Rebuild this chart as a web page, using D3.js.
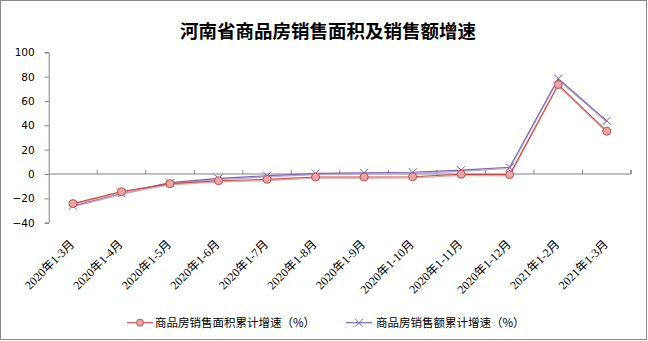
<!DOCTYPE html>
<html><head><meta charset="utf-8">
<script src="https://cdn.jsdelivr.net/npm/d3@7/dist/d3.min.js"></script>
<style>html,body{margin:0;padding:0;background:#fff;}svg{display:block;}</style>
</head><body>
<script>
const categories = ["2020年1-3月","2020年1-4月","2020年1-5月","2020年1-6月","2020年1-7月","2020年1-8月","2020年1-9月","2020年1-10月","2020年1-11月","2020年1-12月","2021年1-2月","2021年1-3月"];
const areaGrowth = [-24.3, -14.5, -7.9, -5.5, -4.4, -2.5, -2.4, -2.3, -0.2, -0.5, 73.5, 35.2];
const salesGrowth = [-26.0, -15.8, -7.1, -3.6, -1.4, 0.5, 1.0, 1.5, 3.2, 5.5, 78.4, 43.7];
const yTicks = [-40, -20, 0, 20, 40, 60, 80, 100];
const seriesNames = ["商品房销售面积累计增速（%）", "商品房销售额累计增速（%）"];
const title = "河南省商品房销售面积及销售额增速";

const W = 648, H = 341;
const svg = d3.select("body").append("svg").attr("width", W).attr("height", H);
svg.append("rect").attr("x", 0.5).attr("y", 0.5).attr("width", W - 2).attr("height", H - 2)
  .attr("fill", "#fff").attr("stroke", "#8a8a8a").attr("stroke-width", 1);

svg.append("text").attr("x", 328).attr("y", 38).attr("text-anchor", "middle")
  .attr("font-family", "'Noto Sans CJK SC', sans-serif").attr("font-weight", "bold")
  .attr("font-size", 18.5).attr("fill", "#000").text(title);

const x = d3.scaleBand().domain(categories).range([48.7, 631]);
const y = d3.scaleLinear().domain([-40, 100]).range([222.7, 52.3]);

// y axis
const yAxis = d3.axisLeft(y).tickValues(yTicks).tickSize(4).tickPadding(10);
const gy = svg.append("g").attr("transform", "translate(48.7,0)").call(yAxis);
gy.select(".domain").attr("stroke", "#808080");
gy.selectAll(".tick line").attr("stroke", "#808080");
gy.selectAll(".tick text").attr("font-family", "'DejaVu Sans', sans-serif").attr("font-size", 10.5).attr("fill", "#000");

// x axis at zero
const xAxis = d3.axisTop(x).tickSize(4).tickFormat("");
const gx = svg.append("g").attr("transform", `translate(0,${y(0)})`).call(xAxis);
gx.select(".domain").attr("stroke", "#808080").attr("d", `M48.7,0H631`);
gx.selectAll(".tick line").attr("stroke", "#808080")
  .attr("transform", `translate(${x.bandwidth()/2},0)`);
gx.append("line").attr("x1", 631).attr("x2", 631).attr("y1", 0).attr("y2", -4).attr("stroke", "#808080");

// x labels
svg.append("g").selectAll("text").data(categories).join("text")
  .attr("transform", d => `translate(${x(d) + x.bandwidth()/2 + 2},245) rotate(-45)`)
  .attr("text-anchor", "end")
  .attr("font-family", "'Liberation Serif', 'Noto Sans CJK SC', serif")
  .attr("font-size", 12).attr("fill", "#000").text(d => d);

const cx = d => x(d) + x.bandwidth() / 2;
const line = d3.line().x(d => cx(d[0])).y(d => y(d[1]));

function drawSeries(vals, color, shadow) {
  const pts = categories.map((c, i) => [c, vals[i]]);
  svg.append("path").datum(pts).attr("d", line).attr("fill", "none")
    .attr("stroke", shadow).attr("stroke-width", 1.2).attr("transform", "translate(0,1.2)");
  svg.append("path").datum(pts).attr("d", line).attr("fill", "none")
    .attr("stroke", color).attr("stroke-width", 1.1);
  return pts;
}

const salesPts = drawSeries(salesGrowth, "#7e64a8", "#b8a8d4");
const areaPts = drawSeries(areaGrowth, "#c0504d", "#eba4a4");

function xMark(g, px, py, s, color) {
  g.append("path").attr("d", `M${px-s},${py-s}L${px+s},${py+s}M${px-s},${py+s}L${px+s},${py-s}`)
    .attr("stroke", color).attr("stroke-width", 1).attr("fill", "none");
}
const gm = svg.append("g");
salesPts.forEach(p => xMark(gm, cx(p[0]), y(p[1]), 4, "#8064a2"));
svg.append("g").selectAll("circle").data(areaPts).join("circle")
  .attr("cx", d => cx(d[0])).attr("cy", d => y(d[1])).attr("r", 4)
  .attr("fill", "#e8a6aa").attr("stroke", "#c0504d").attr("stroke-width", 1);

// legend
const lg = svg.append("g");
lg.append("line").attr("x1", 127).attr("x2", 153).attr("y1", 322.7).attr("y2", 322.7).attr("stroke", "#c0504d").attr("stroke-width", 1.2);
lg.append("circle").attr("cx", 140).attr("cy", 322.7).attr("r", 3.5).attr("fill", "#e8a6aa").attr("stroke", "#c0504d");
lg.append("text").attr("x", 155).attr("y", 327).attr("font-family", "'Noto Sans CJK SC', sans-serif").attr("font-size", 11.5).attr("fill", "#000").text(seriesNames[0]);
lg.append("line").attr("x1", 346).attr("x2", 372).attr("y1", 322.7).attr("y2", 322.7).attr("stroke", "#8064a2").attr("stroke-width", 1.2);
xMark(lg, 359, 322.7, 4, "#8064a2");
lg.append("text").attr("x", 376).attr("y", 327).attr("font-family", "'Noto Sans CJK SC', sans-serif").attr("font-size", 11.5).attr("fill", "#000").text(seriesNames[1]);
</script>
</body></html>
